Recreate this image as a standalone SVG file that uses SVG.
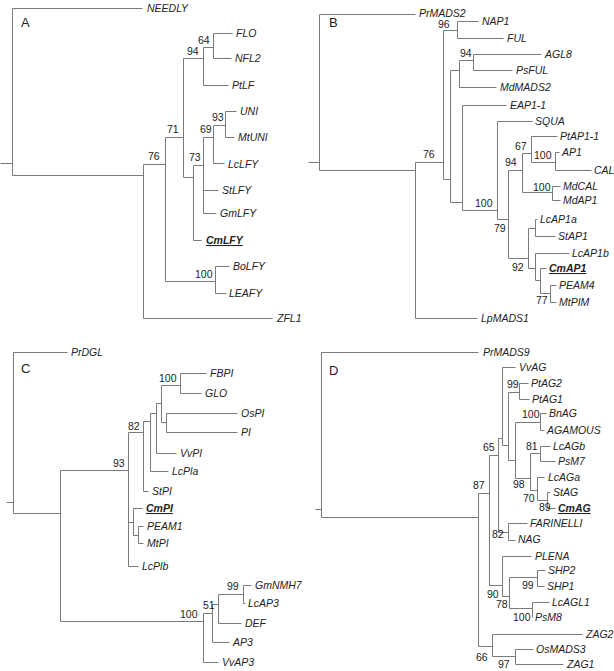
<svg xmlns="http://www.w3.org/2000/svg" width="614" height="671" viewBox="0 0 614 671">
<style>
.e{fill:none;stroke:#7a7a7a;stroke-width:1}
text{font-family:"Liberation Sans",Arial,sans-serif;font-size:10.5px;fill:#222}
.lf{font-style:italic}
.hl{font-weight:bold;text-decoration:underline}
.pl{font-size:13px}
</style>
<rect width="614" height="671" fill="#fff"/>

<!-- Panel A -->
<g id="panelA">
<text class="pl" x="21" y="27">A</text>
<g id="A-edges">
<path class="e" transform="translate(0.5,0.5)" d="M0 163H12M12 8V175M12 8H142M12 175H143
M143 164V318M143 318H272M143 164H165
M165 137V281M165 137H183M165 281H215
M215 266V293M215 266H229M215 293H226
M183 58V177M183 58H203M183 177H193
M203 47V85M203 47H213M203 85H228
M213 33V58M213 33H232M213 58H231
M193 165V240M193 165H203M193 240H201
M203 137V213M203 137H213M203 190H218M203 213H216
M213 125V163M213 125H225M213 163H224
M225 111V137M225 111H236M225 137H234"/>
<text x="198" y="44">64</text>
<text x="187" y="55">94</text>
<text x="167" y="133">71</text>
<text x="212" y="121">93</text>
<text x="200" y="133">69</text>
<text x="189" y="161">73</text>
<text x="148" y="160">76</text>
<text x="195" y="278">100</text>
</g>
<g id="A-NEEDLY"><text class="lf" x="147" y="12">NEEDLY</text></g>
<g id="A-FLO"><text class="lf" x="236" y="37">FLO</text></g>
<g id="A-NFL2"><text class="lf" x="235" y="62">NFL2</text></g>
<g id="A-PtLF"><text class="lf" x="232" y="89">PtLF</text></g>
<g id="A-UNI"><text class="lf" x="240" y="115">UNI</text></g>
<g id="A-MtUNI"><text class="lf" x="238" y="141">MtUNI</text></g>
<g id="A-LcLFY"><text class="lf" x="228" y="168">LcLFY</text></g>
<g id="A-StLFY"><text class="lf" x="222" y="194">StLFY</text></g>
<g id="A-GmLFY"><text class="lf" x="220" y="217">GmLFY</text></g>
<g id="A-CmLFY"><text class="lf hl" x="206" y="244">CmLFY</text></g>
<g id="A-BoLFY"><text class="lf" x="233" y="270">BoLFY</text></g>
<g id="A-LEAFY"><text class="lf" x="229" y="297">LEAFY</text></g>
<g id="A-ZFL1"><text class="lf" x="277" y="322">ZFL1</text></g>
</g>

<!-- Panel B -->
<g id="panelB">
<text class="pl" x="329" y="27">B</text>
<g id="B-edges">
<path class="e" transform="translate(0.5,0.5)" d="M308 162H319M319 14V170M319 14H415M319 170H415
M415 162V318M415 162H443M415 318H477
M443 30V179M443 30H457M443 179H450
M457 21V38M457 21H478M457 38H503
M450 70V202M450 70H459M450 202H462
M459 60V87M459 60H473M459 87H496
M473 54V70M473 54H541M473 70H512
M462 105V210M462 105H506M462 210H497
M497 121V219M497 121H532M497 219H508
M508 170V258M508 170H522M508 258H528
M522 153V192M522 153H531M522 192H552
M531 136V162M531 136H557M531 162H555
M555 152V170M555 152H559M555 170H591
M552 186V200M552 186H560M552 200H560
M528 228V268M528 228H535M528 268H535
M535 219V236M535 219H537M535 236H555
M535 253V280M535 253H569M535 280H540
M540 268V293M540 268H546M540 293H550
M550 285V302M550 285H556M550 302H556"/>
<text x="438" y="28">96</text>
<text x="460" y="57">94</text>
<text x="423" y="158">76</text>
<text x="475" y="207">100</text>
<text x="515" y="150">67</text>
<text x="505" y="166">94</text>
<text x="534" y="159">100</text>
<text x="533" y="191">100</text>
<text x="494" y="232">79</text>
<text x="512" y="271">92</text>
<text x="536" y="304">77</text>
</g>
<g id="B-PrMADS2"><text class="lf" x="419" y="17">PrMADS2</text></g>
<g id="B-NAP1"><text class="lf" x="482" y="25">NAP1</text></g>
<g id="B-FUL"><text class="lf" x="507" y="42">FUL</text></g>
<g id="B-AGL8"><text class="lf" x="545" y="58">AGL8</text></g>
<g id="B-PsFUL"><text class="lf" x="516" y="74">PsFUL</text></g>
<g id="B-MdMADS2"><text class="lf" x="500" y="91">MdMADS2</text></g>
<g id="B-EAP1-1"><text class="lf" x="510" y="109">EAP1-1</text></g>
<g id="B-SQUA"><text class="lf" x="535" y="125">SQUA</text></g>
<g id="B-PtAP1-1"><text class="lf" x="560" y="140">PtAP1-1</text></g>
<g id="B-AP1"><text class="lf" x="562" y="156">AP1</text></g>
<g id="B-CAL"><text class="lf" x="594" y="174">CAL</text></g>
<g id="B-MdCAL"><text class="lf" x="563" y="190">MdCAL</text></g>
<g id="B-MdAP1"><text class="lf" x="563" y="204">MdAP1</text></g>
<g id="B-LcAP1a"><text class="lf" x="540" y="223">LcAP1a</text></g>
<g id="B-StAP1"><text class="lf" x="558" y="240">StAP1</text></g>
<g id="B-LcAP1b"><text class="lf" x="572" y="257">LcAP1b</text></g>
<g id="B-CmAP1"><text class="lf hl" x="549" y="272">CmAP1</text></g>
<g id="B-PEAM4"><text class="lf" x="559" y="289">PEAM4</text></g>
<g id="B-MtPIM"><text class="lf" x="559" y="306">MtPIM</text></g>
<g id="B-LpMADS1"><text class="lf" x="481" y="322">LpMADS1</text></g>
</g>

<!-- Panel C -->
<g id="panelC">
<text class="pl" x="21" y="373">C</text>
<g id="C-edges">
<path class="e" transform="translate(0.5,0.5)" d="M6 502H13M13 352V513M13 352H67M13 513H60
M60 470V621M60 470H128M60 621H203
M128 432V566M128 432H143M128 522H133M128 566H138
M143 421V491M143 421H150M143 491H148
M150 413V471M150 413H156M150 471H168
M156 403V453M156 403H161M156 453H176
M161 385V422M161 385H180M161 422H166
M180 373V393M180 373H206M180 393H201
M166 413V432M166 413H237M166 432H237
M133 508V535M133 508H142M133 535H138
M138 526V543M138 526H143M138 543H143
M203 613V662M203 613H212M203 662H218
M212 604V642M212 604H218M212 642H229
M218 594V623M218 594H243M218 623H241
M243 585V603M243 585H251M243 603H245"/>
<text x="159" y="382">100</text>
<text x="128" y="430">82</text>
<text x="113" y="467">93</text>
<text x="180" y="618">100</text>
<text x="203" y="609">51</text>
<text x="227" y="590">99</text>
</g>
<g id="C-PrDGL"><text class="lf" x="71" y="356">PrDGL</text></g>
<g id="C-FBPI"><text class="lf" x="210" y="377">FBPI</text></g>
<g id="C-GLO"><text class="lf" x="205" y="397">GLO</text></g>
<g id="C-OsPI"><text class="lf" x="241" y="417">OsPI</text></g>
<g id="C-PI"><text class="lf" x="241" y="436">PI</text></g>
<g id="C-VvPI"><text class="lf" x="180" y="457">VvPI</text></g>
<g id="C-LcPla"><text class="lf" x="172" y="475">LcPla</text></g>
<g id="C-StPI"><text class="lf" x="152" y="495">StPI</text></g>
<g id="C-CmPI"><text class="lf hl" x="146" y="512">CmPI</text></g>
<g id="C-PEAM1"><text class="lf" x="147" y="530">PEAM1</text></g>
<g id="C-MtPI"><text class="lf" x="147" y="547">MtPI</text></g>
<g id="C-LcPlb"><text class="lf" x="142" y="570">LcPlb</text></g>
<g id="C-GmNMH7"><text class="lf" x="255" y="589">GmNMH7</text></g>
<g id="C-LcAP3"><text class="lf" x="248" y="607">LcAP3</text></g>
<g id="C-DEF"><text class="lf" x="245" y="627">DEF</text></g>
<g id="C-AP3"><text class="lf" x="233" y="646">AP3</text></g>
<g id="C-VvAP3"><text class="lf" x="222" y="666">VvAP3</text></g>
</g>

<!-- Panel D -->
<g id="panelD">
<text class="pl" x="329" y="375">D</text>
<g id="D-edges">
<path class="e" transform="translate(0.5,0.5)" d="M315 509H321M321 352V517M321 352H478M321 517H478
M478 493V646M478 493H489M478 646H492
M492 634V656M492 634H582M492 656H515
M515 649V664M515 649H533M515 664H563
M489 455V585M489 455H498M489 585H502
M498 438V532M498 438H502M498 532H508
M508 523V540M508 523H527M508 540H515
M502 556V596M502 556H531M502 596H509
M509 577V608M509 577H537M509 608H532
M537 570V586M537 570H545M537 586H544
M532 602V617M532 602H549M532 617H532
M502 367V445M502 367H515M502 445H508
M508 392V460M508 392H519M508 460H515
M519 383V399M519 383H528M519 399H529
M515 422V478M515 422H540M515 478H530
M540 413V430M540 413H546M540 430H544
M530 453V490M530 453H540M530 490H537
M540 446V461M540 446H550M540 461H555
M537 477V500M537 477H544M537 500H547
M547 492V508M547 492H550M547 508H555"/>
<text x="507" y="388">99</text>
<text x="522" y="418">100</text>
<text x="526" y="450">81</text>
<text x="483" y="451">65</text>
<text x="513" y="488">98</text>
<text x="473" y="489">87</text>
<text x="523" y="502">70</text>
<text x="539" y="511">89</text>
<text x="492" y="538">82</text>
<text x="522" y="589">99</text>
<text x="487" y="598">90</text>
<text x="496" y="608">78</text>
<text x="513" y="621">100</text>
<text x="476" y="661">66</text>
<text x="498" y="668">97</text>
</g>
<g id="D-PrMADS9"><text class="lf" x="483" y="356">PrMADS9</text></g>
<g id="D-VvAG"><text class="lf" x="519" y="371">VvAG</text></g>
<g id="D-PtAG2"><text class="lf" x="531" y="387">PtAG2</text></g>
<g id="D-PtAG1"><text class="lf" x="532" y="403">PtAG1</text></g>
<g id="D-BnAG"><text class="lf" x="549" y="417">BnAG</text></g>
<g id="D-AGAMOUS"><text class="lf" x="547" y="434">AGAMOUS</text></g>
<g id="D-LcAGb"><text class="lf" x="553" y="450">LcAGb</text></g>
<g id="D-PsM7"><text class="lf" x="558" y="465">PsM7</text></g>
<g id="D-LcAGa"><text class="lf" x="548" y="481">LcAGa</text></g>
<g id="D-StAG"><text class="lf" x="553" y="496">StAG</text></g>
<g id="D-CmAG"><text class="lf hl" x="558" y="512">CmAG</text></g>
<g id="D-FARINELLI"><text class="lf" x="530" y="527">FARINELLI</text></g>
<g id="D-NAG"><text class="lf" x="518" y="543">NAG</text></g>
<g id="D-PLENA"><text class="lf" x="535" y="560">PLENA</text></g>
<g id="D-SHP2"><text class="lf" x="548" y="574">SHP2</text></g>
<g id="D-SHP1"><text class="lf" x="547" y="590">SHP1</text></g>
<g id="D-LcAGL1"><text class="lf" x="552" y="606">LcAGL1</text></g>
<g id="D-PsM8"><text class="lf" x="535" y="621">PsM8</text></g>
<g id="D-ZAG2"><text class="lf" x="586" y="638">ZAG2</text></g>
<g id="D-OsMADS3"><text class="lf" x="536" y="653">OsMADS3</text></g>
<g id="D-ZAG1"><text class="lf" x="567" y="668">ZAG1</text></g>
</g>
</svg>
